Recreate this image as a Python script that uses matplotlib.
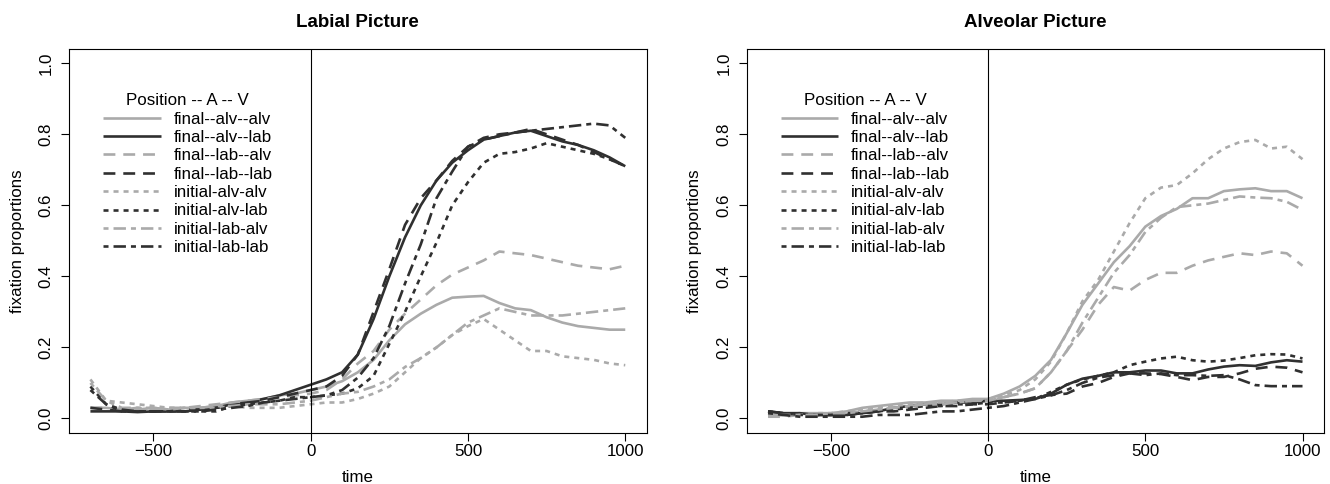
import matplotlib
matplotlib.use("Agg")
import matplotlib.pyplot as plt

plt.rcParams['font.family'] = ['Liberation Sans', 'DejaVu Sans']

# tempo (ms) relativo ao início do alvo
tempo = [-700, -650, -600, -550, -500, -450, -400, -350, -300, -250, -200, -150,
         -100, -50, 0, 50, 100, 150, 200, 250, 300, 350, 400, 450, 500, 550,
         600, 650, 700, 750, 800, 850, 900, 950, 1000]

rotulos = ["final--alv--alv", "final--alv--lab", "final--lab--alv", "final--lab--lab",
           "initial-alv-alv", "initial-alv-lab", "initial-lab-alv", "initial-lab-lab"]

# painel esquerdo: Labial Picture
lab_fa_aa = [0.03, 0.03, 0.025, 0.025, 0.03, 0.025, 0.03, 0.03, 0.035, 0.045, 0.05, 0.055,
             0.065, 0.07, 0.08, 0.09, 0.105, 0.13, 0.165, 0.22, 0.265, 0.295, 0.32, 0.34,
             0.343, 0.345, 0.325, 0.31, 0.305, 0.285, 0.27, 0.26, 0.255, 0.25, 0.25]
lab_fa_al = [0.02, 0.02, 0.02, 0.018, 0.02, 0.02, 0.02, 0.025, 0.03, 0.04, 0.045, 0.055,
             0.065, 0.08, 0.095, 0.11, 0.13, 0.18, 0.28, 0.40, 0.51, 0.60, 0.67, 0.72,
             0.755, 0.785, 0.795, 0.805, 0.81, 0.795, 0.78, 0.77, 0.755, 0.735, 0.71]
lab_fl_aa = [0.03, 0.03, 0.025, 0.03, 0.025, 0.03, 0.03, 0.035, 0.04, 0.045, 0.05, 0.055,
             0.06, 0.065, 0.07, 0.08, 0.11, 0.155, 0.19, 0.25, 0.295, 0.335, 0.375, 0.405,
             0.425, 0.445, 0.47, 0.465, 0.46, 0.45, 0.44, 0.43, 0.425, 0.42, 0.43]
lab_fl_ll = [0.03, 0.025, 0.02, 0.02, 0.02, 0.02, 0.025, 0.025, 0.03, 0.035, 0.045, 0.05,
             0.06, 0.07, 0.08, 0.09, 0.12, 0.18, 0.30, 0.42, 0.545, 0.62, 0.67, 0.725,
             0.765, 0.79, 0.80, 0.805, 0.815, 0.80, 0.785, 0.77, 0.75, 0.73, 0.71]
lab_ia_aa = [0.11, 0.05, 0.045, 0.04, 0.035, 0.03, 0.03, 0.03, 0.03, 0.035, 0.03, 0.03,
             0.03, 0.035, 0.04, 0.045, 0.045, 0.055, 0.07, 0.09, 0.13, 0.17, 0.20, 0.235,
             0.26, 0.28, 0.25, 0.22, 0.19, 0.19, 0.175, 0.17, 0.165, 0.155, 0.15]
lab_ia_al = [0.09, 0.04, 0.02, 0.02, 0.02, 0.02, 0.02, 0.02, 0.02, 0.035, 0.04, 0.045,
             0.05, 0.06, 0.06, 0.065, 0.07, 0.085, 0.12, 0.21, 0.30, 0.40, 0.495, 0.60,
             0.665, 0.72, 0.745, 0.75, 0.76, 0.775, 0.765, 0.755, 0.745, 0.73, 0.71]
lab_il_aa = [0.10, 0.05, 0.03, 0.03, 0.03, 0.025, 0.03, 0.03, 0.035, 0.035, 0.04, 0.04,
             0.04, 0.045, 0.05, 0.06, 0.07, 0.075, 0.09, 0.11, 0.145, 0.17, 0.20, 0.235,
             0.27, 0.29, 0.31, 0.30, 0.29, 0.29, 0.29, 0.295, 0.30, 0.305, 0.31]
lab_il_ll = [0.08, 0.04, 0.025, 0.02, 0.02, 0.02, 0.02, 0.02, 0.025, 0.03, 0.035, 0.045,
             0.05, 0.055, 0.06, 0.065, 0.08, 0.115, 0.17, 0.26, 0.38, 0.49, 0.62, 0.695,
             0.765, 0.785, 0.795, 0.805, 0.81, 0.815, 0.82, 0.825, 0.83, 0.825, 0.79]

# painel direito: Alveolar Picture
alv_fa_aa = [0.01, 0.01, 0.015, 0.015, 0.015, 0.02, 0.03, 0.035, 0.04, 0.045, 0.045, 0.05,
             0.05, 0.055, 0.055, 0.07, 0.09, 0.12, 0.165, 0.24, 0.32, 0.38, 0.44, 0.485,
             0.54, 0.57, 0.59, 0.62, 0.62, 0.64, 0.645, 0.648, 0.64, 0.64, 0.62]
alv_fa_al = [0.02, 0.015, 0.015, 0.01, 0.01, 0.01, 0.015, 0.02, 0.03, 0.035, 0.04, 0.04,
             0.045, 0.045, 0.05, 0.05, 0.052, 0.055, 0.07, 0.095, 0.112, 0.12, 0.13, 0.13,
             0.135, 0.135, 0.127, 0.127, 0.138, 0.146, 0.15, 0.148, 0.158, 0.164, 0.16]
alv_fl_aa = [0.005, 0.005, 0.01, 0.01, 0.01, 0.015, 0.02, 0.025, 0.03, 0.035, 0.04, 0.045,
             0.045, 0.05, 0.05, 0.06, 0.07, 0.085, 0.13, 0.19, 0.25, 0.32, 0.37, 0.36,
             0.39, 0.41, 0.41, 0.43, 0.445, 0.455, 0.465, 0.46, 0.47, 0.465, 0.43]
alv_fl_ll = [0.02, 0.015, 0.01, 0.01, 0.01, 0.01, 0.015, 0.02, 0.02, 0.025, 0.03, 0.035,
             0.035, 0.04, 0.04, 0.045, 0.05, 0.06, 0.066, 0.07, 0.09, 0.10, 0.117, 0.127,
             0.127, 0.125, 0.117, 0.108, 0.117, 0.117, 0.127, 0.14, 0.146, 0.143, 0.13]
alv_ia_aa = [0.01, 0.01, 0.01, 0.015, 0.015, 0.02, 0.025, 0.03, 0.035, 0.04, 0.045, 0.045,
             0.05, 0.05, 0.055, 0.065, 0.08, 0.11, 0.16, 0.24, 0.33, 0.39, 0.47, 0.55,
             0.62, 0.65, 0.657, 0.69, 0.73, 0.76, 0.778, 0.784, 0.76, 0.765, 0.73]
alv_ia_al = [0.02, 0.015, 0.01, 0.01, 0.01, 0.015, 0.015, 0.02, 0.025, 0.03, 0.035, 0.035,
             0.04, 0.04, 0.045, 0.045, 0.05, 0.055, 0.075, 0.095, 0.11, 0.12, 0.13, 0.15,
             0.16, 0.169, 0.174, 0.164, 0.16, 0.163, 0.17, 0.178, 0.181, 0.18, 0.169]
alv_il_aa = [0.01, 0.01, 0.01, 0.01, 0.015, 0.015, 0.02, 0.025, 0.03, 0.035, 0.04, 0.04,
             0.045, 0.05, 0.05, 0.06, 0.07, 0.085, 0.13, 0.19, 0.27, 0.34, 0.41, 0.46,
             0.525, 0.565, 0.595, 0.60, 0.605, 0.615, 0.625, 0.622, 0.62, 0.61, 0.587]
alv_il_ll = [0.015, 0.01, 0.005, 0.005, 0.005, 0.005, 0.005, 0.01, 0.01, 0.01, 0.015, 0.02,
             0.02, 0.025, 0.03, 0.035, 0.045, 0.055, 0.065, 0.08, 0.10, 0.115, 0.122, 0.127,
             0.122, 0.127, 0.122, 0.122, 0.12, 0.122, 0.11, 0.094, 0.091, 0.091, 0.091]

labial = [lab_fa_aa, lab_fa_al, lab_fl_aa, lab_fl_ll, lab_ia_aa, lab_ia_al, lab_il_aa, lab_il_ll]
alveolar = [alv_fa_aa, alv_fa_al, alv_fl_aa, alv_fl_ll, alv_ia_aa, alv_ia_al, alv_il_aa, alv_il_ll]

# estilos como no R: lty 1,1,2,2,3,3,4,4 alternando cinza/preto
CINZA = '#aaaaaa'
PRETO = '#303030'
cores = [CINZA, PRETO] * 4
tracos = [None, None, (4.5, 3.0), (4.5, 3.0), (1.9, 1.9), (1.9, 1.9),
          (1.9, 1.9, 4.7, 1.9), (1.9, 1.9, 4.7, 1.9)]

fig = plt.figure(figsize=(13.3, 4.84), dpi=100)
ax1 = fig.add_axes([0.0519, 0.106, 0.4343, 0.7927])
ax2 = fig.add_axes([0.5614, 0.106, 0.4340, 0.7927])


def desenha(ax, series, titulo):
    for serie, cor, tr, rot in zip(series, cores, tracos, rotulos):
        linha, = ax.plot(tempo, serie, color=cor, lw=1.9, label=rot,
                         solid_capstyle='butt', dash_capstyle='butt')
        if tr is not None:
            linha.set_dashes(tr)
    ax.axvline(0, color='black', lw=0.8)
    ax.set_xlim(-768, 1068)
    ax.set_ylim(-0.04, 1.04)
    ax.set_xticks([-500, 0, 500, 1000])
    ax.set_yticks([0.0, 0.2, 0.4, 0.6, 0.8, 1.0])
    ax.set_yticklabels(['0.0', '0.2', '0.4', '0.6', '0.8', '1.0'], rotation=90, va='center')
    ax.tick_params(axis='both', length=6, width=0.8, labelsize=12.2)
    ax.tick_params(axis='x', pad=2)
    ax.tick_params(axis='y', pad=5)
    for sp in ax.spines.values():
        sp.set_linewidth(0.8)
    ax.set_xlabel('time', fontsize=12.2, labelpad=8)
    ax.set_ylabel('fixation proportions', fontsize=12.2, labelpad=10)
    ax.set_title(titulo, fontsize=13.5, fontweight='bold', pad=16)
    leg = ax.legend(loc='upper left', bbox_to_anchor=(0.059, 0.885), frameon=False,
                    title='Position -- A -- V', fontsize=12.2, title_fontsize=12.2,
                    handlelength=3.4, handletextpad=0.75, labelspacing=0.2,
                    borderpad=0, borderaxespad=0)
    leg._legend_box.align = 'center'


desenha(ax1, labial, 'Labial Picture')
desenha(ax2, alveolar, 'Alveolar Picture')

plt.savefig('out.png', dpi=100)
